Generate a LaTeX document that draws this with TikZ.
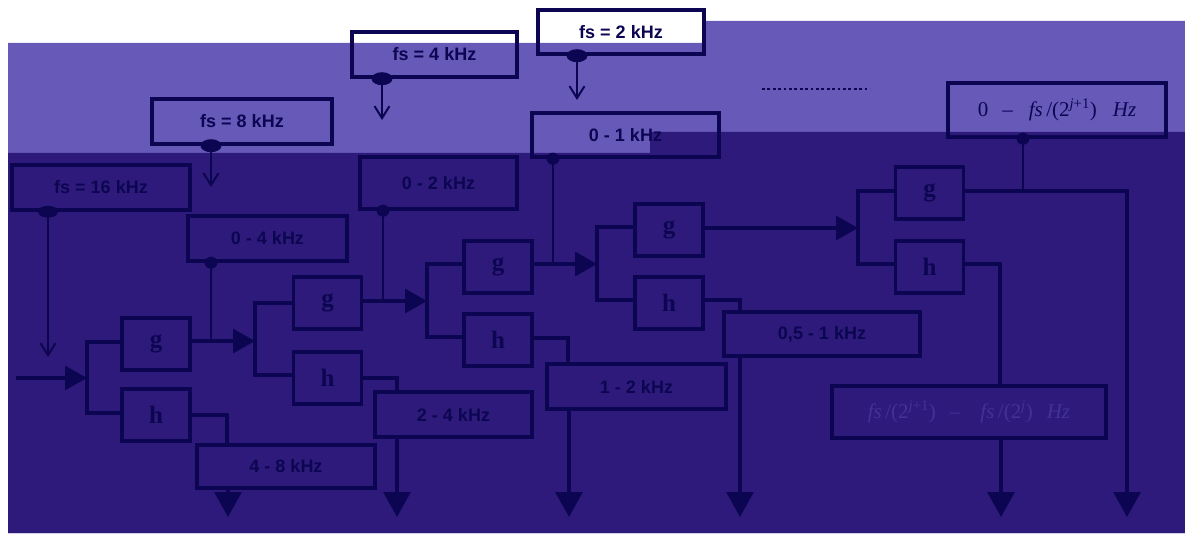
\documentclass[tikz,border=0pt]{standalone}
\usepackage{fontspec}
\setmainfont{Liberation Serif}
\setsansfont{Liberation Sans}
\usetikzlibrary{arrows.meta,shapes.geometric}
\definecolor{bglight}{RGB}{102,89,184}
\definecolor{bgdark}{RGB}{45,26,122}
\definecolor{ink}{RGB}{12,6,82}
\definecolor{faint}{RGB}{66,50,152}
\begin{document}
\begin{tikzpicture}[x=1pt,y=-1pt,
  lbl/.style={draw=ink,line width=3.4pt,rectangle,inner sep=0pt,text=ink,
    font=\sffamily\bfseries\fontsize{18}{20}\selectfont},
  mlbl/.style={draw=ink,line width=3.4pt,rectangle,inner sep=0pt,
    font=\rmfamily\fontsize{21}{24}\selectfont},
  filt/.style={draw=ink,line width=3.4pt,rectangle,inner sep=0pt,
    minimum width=68pt,minimum height=52pt,text=ink,
    font=\rmfamily\bfseries\fontsize{25}{26}\selectfont},
  conn/.style={draw=ink,line width=3.1pt,line join=miter},
  tap/.style={draw=ink,line width=2pt},
  bdot/.style={ellipse,fill=ink,inner sep=0pt,minimum width=21pt,minimum height=13pt},
  sdot/.style={ellipse,fill=ink,inner sep=0pt,minimum width=13pt,minimum height=12pt},
  tri/.style={-{Triangle[length=22pt,width=24pt]}},
  vtri/.style={-{Triangle[length=25pt,width=27pt]}},
  barb/.style={-{Straight Barb[length=12pt,width=15pt]}}]
% background
\fill[white] (0,0) rectangle (1185,534);
\fill[bglight] (8,43) -- (705,43) -- (705,21) -- (1185,21) -- (1185,533) -- (8,533) -- cycle;
\fill[bgdark] (8,153) -- (650,153) -- (650,132) -- (1185,132) -- (1185,533) -- (8,533) -- cycle;
\useasboundingbox (0,0) rectangle (1185,534);

% label boxes
\node[lbl,minimum width=180pt,minimum height=45pt] (fs8) at (242,121.5) {fs = 8 kHz};
\node[lbl,minimum width=165pt,minimum height=45pt] (fs4) at (434.5,54.5) {fs = 4 kHz};
\node[lbl,minimum width=166pt,minimum height=44pt] (fs2) at (621,32) {fs = 2 kHz};
\node[lbl,minimum width=187pt,minimum height=44pt] (f01) at (625.5,135) {0 - 1 kHz};
\node[lbl,minimum width=157pt,minimum height=52pt] (f02) at (438.5,183) {0 - 2 kHz};
\node[lbl,minimum width=178pt,minimum height=45pt] (fs16) at (101,187.5) {fs = 16 kHz};
\node[lbl,minimum width=159pt,minimum height=45pt] (f04) at (267.5,238.5) {0 - 4 kHz};
\node[mlbl,text=ink,minimum width=218pt,minimum height=54pt] (fj) at (1057,110)
  {0\hspace{14pt}\textendash\hspace{16pt}\textit{fs}\,/(2\textsuperscript{\textit{j}+1})\hspace{16pt}\textit{Hz}};
\node[lbl,minimum width=178pt,minimum height=43pt] (f48) at (286,466.5) {4 - 8 kHz};
\node[lbl,minimum width=157pt,minimum height=45pt] (f24) at (453.5,414.5) {2 - 4 kHz};
\node[lbl,minimum width=179pt,minimum height=45pt] (f12) at (636.5,386.5) {1 - 2 kHz};
\node[lbl,minimum width=196pt,minimum height=44pt] (f051) at (822,334) {0,5 - 1 kHz};
\node[mlbl,text=faint,minimum width=274pt,minimum height=52pt] (fjj) at (969,412)
  {\textit{fs}\,/(2\textsuperscript{\textit{j}+1})\hspace{14pt}\textendash\hspace{20pt}\textit{fs}\,/(2\textsuperscript{\textit{j}})\hspace{14pt}\textit{Hz}};

% filter boxes
\node[filt] (g1) at (156,344) {g};
\node[filt] (h1) at (156,415) {h};
\node[filt] (g2) at (327.5,303) {g};
\node[filt] (h2) at (327.5,378) {h};
\node[filt] (g3) at (498,267) {g};
\node[filt] (h3) at (498,340) {h};
\node[filt] (g4) at (669,230) {g};
\node[filt] (h4) at (669,303) {h};
\node[filt] (g5) at (929.5,193) {g};
\node[filt] (h5) at (929.5,267) {h};

% split points
\coordinate (in) at (16,378);
\coordinate (s1) at (87,378);
\coordinate (s2) at (255,341);
\coordinate (s3) at (427,301);
\coordinate (s4) at (597,264);
\coordinate (s5) at (858,228);

% dots
\node[bdot] (d8) at (211,0 |- fs8.south) {};
\node[bdot] (d4) at (382,0 |- fs4.south) {};
\node[bdot] (d2) at (577,0 |- fs2.south) {};
\node[bdot,minimum width=20pt,minimum height=12pt] (d16) at (48,0 |- fs16.south) {};
\node[sdot] (d04) at (211,0 |- f04.south) {};
\node[sdot] (d02) at (383,0 |- f02.south) {};
\node[sdot] (d01) at (553,0 |- f01.south) {};
\node[sdot] (dj) at (1023,0 |- fj.south) {};

% open arrows from sampling-rate boxes
\coordinate (a8) at (211,187);
\coordinate (a4) at (382,120);
\coordinate (a2) at (577,100);
\coordinate (a16) at (48,357);
\draw[tap,barb] (d8.center) -- (a8);
\draw[tap,barb] (d4.center) -- (a4);
\draw[tap,barb] (d2.center) -- (a2);
\draw[tap,barb] (d16.center) -- (a16);

% band taps
\draw[tap] (d04.center) -- (d04 |- s2);
\draw[tap] (d02.center) -- (d02 |- s3);
\draw[tap] (d01.center) -- (d01 |- s4);
\coordinate (t5) at (1023,191);
\draw[tap] (dj.center) -- (t5);

% input and splits
\draw[conn,tri] (in) -- (s1);
\draw[conn] (g1.west |- 0,342) -| (s1) |- (h1.west |- 0,413);
\draw[conn,tri] (g1.east |- s2) -- (s2);
\draw[conn] (g2.west) -| (s2) |- (h2.west |- 0,375);
\draw[conn,tri] (g2.east |- s3) -- (s3);
\draw[conn] (g3.west |- 0,264) -| (s3) |- (h3.west |- 0,337);
\draw[conn,tri] (g3.east |- s4) -- (s4);
\draw[conn] (g4.west |- 0,227) -| (s4) |- (h4.west |- 0,300);
\draw[conn,tri] (g4.east |- s5) -- (s5);
\draw[conn] (g5.west |- 0,191) -| (s5) |- (h5.west |- 0,264);

% h outputs into band boxes
\coordinate (k1) at (227,0 |- f48.north);
\coordinate (k2) at (397,0 |- f24.north);
\coordinate (k3) at (568,0 |- f12.north);
\coordinate (k4) at (740,0 |- f051.north);
\coordinate (k5) at (1000,0 |- fjj.north);
\draw[conn] (h1.east |- 0,415) -| (k1);
\draw[conn] (h2.east |- 0,378) -| (k2);
\draw[conn] (h3.east |- 0,338) -| (k3);
\draw[conn] (h4.east |- 0,300) -| (k4);
\draw[conn] (h5.east |- 0,264) -| (k5);

% outputs
\coordinate (o1) at (228,0 |- f48.south);   \coordinate (e1) at (228,517);
\coordinate (o2) at (397,0 |- f24.south);   \coordinate (e2) at (397,517);
\coordinate (o3) at (569,0 |- f12.south);   \coordinate (e3) at (569,517);
\coordinate (o4) at (740,0 |- f051.south);  \coordinate (e4) at (740,517);
\coordinate (o5) at (1001,0 |- fjj.south);  \coordinate (e5) at (1001,517);
\coordinate (e6) at (1127,517);
\draw[conn,vtri] (o1) -- (e1);
\draw[conn,vtri] (o2) -- (e2);
\draw[conn,vtri] (o3) -- (e3);
\draw[conn,vtri] (o4) -- (e4);
\draw[conn,vtri] (o5) -- (e5);
\draw[conn,vtri] (g5.east |- t5) -| (e6);

% dotted continuation
\coordinate (dl) at (762,89);
\coordinate (dr) at (870,89);
\draw[ink,line width=2.8pt,dash pattern=on 2.8pt off 2.6pt] (dl) -- (dr);
\end{tikzpicture}
\end{document}
